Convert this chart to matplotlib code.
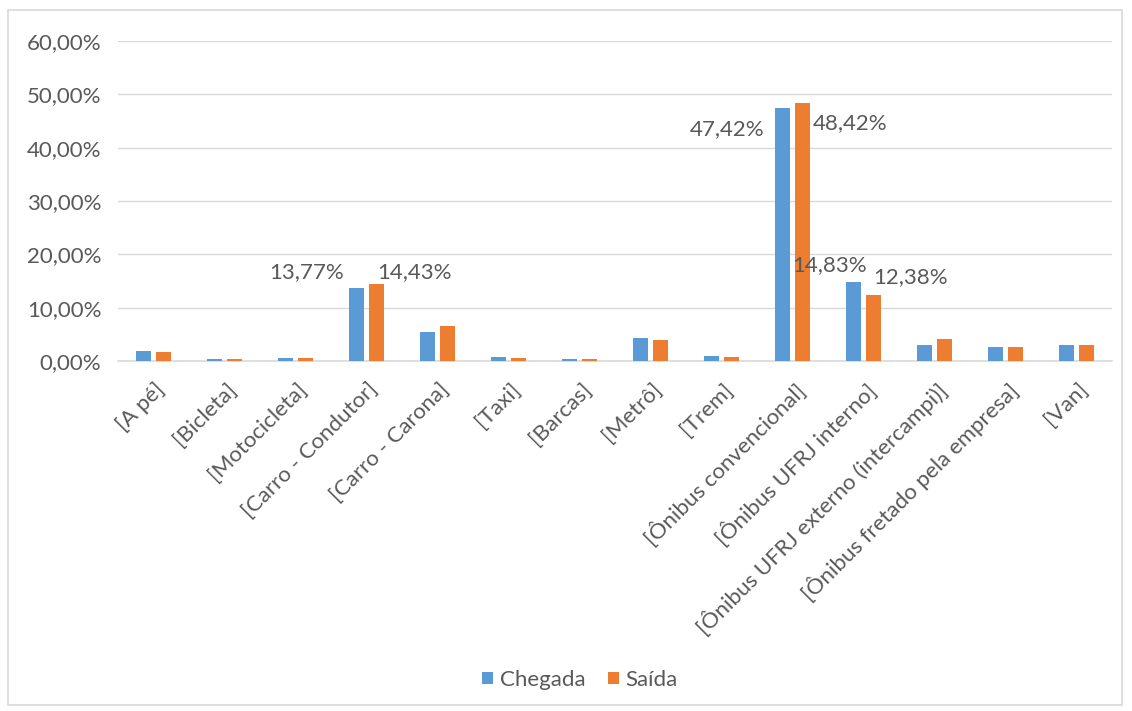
import matplotlib.pyplot as plt
from matplotlib.patches import Rectangle
from matplotlib.transforms import ScaledTranslation
import numpy as np

categories = ["[A pé]", "[Bicleta]", "[Motocicleta]", "[Carro - Condutor]",
              "[Carro - Carona]", "[Taxi]", "[Barcas]", "[Metrô]", "[Trem]",
              "[Ônibus convencional]", "[Ônibus UFRJ interno]",
              "[Ônibus UFRJ externo (intercampi)]",
              "[Ônibus fretado pela empresa]", "[Van]"]
chegada = [1.93, 0.30, 0.50, 13.77, 5.50, 0.75, 0.30, 4.40, 1.00, 47.42,
           14.83, 2.95, 2.70, 2.95]
saida = [1.69, 0.30, 0.55, 14.43, 6.50, 0.50, 0.30, 3.90, 0.75, 48.42,
         12.38, 4.07, 2.70, 2.95]
yticks = [0, 10, 20, 30, 40, 50, 60]

# labelled bars: (series, index, anchor on bar, dx px, dy px, ha)
labels = [("c", 3, "left", -5, 15, "right"), ("s", 3, "right", -7, 12, "left"),
          ("c", 9, "left", -11, -21, "right"), ("s", 9, "right", 3, -20, "left"),
          ("c", 10, "left", -54, 17, "left"), ("s", 10, "mid", 0, 18, "left")]

BLUE = "#5B9BD5"
ORANGE = "#ED7D31"
TXT = "#595959"
FS = 16
plt.rcParams['font.family'] = ['Lato', 'DejaVu Sans']

fig = plt.figure(figsize=(11.32, 7.11), dpi=100)
fig.patches.append(Rectangle((8 / 1132, 1 - 705 / 711), 1114 / 1132, 695 / 711,
                             transform=fig.transFigure, fill=False,
                             edgecolor="#D9D9D9", linewidth=1.2))
ax = fig.add_axes([118 / 1132, 1 - 361 / 711, 994 / 1132, 320 / 711])

x = np.arange(len(categories))
w = 0.215
gap = 0.06
bc = ax.bar(x - w / 2 - gap / 2, chegada, w, color=BLUE, label="Chegada", zorder=3)
bs = ax.bar(x + w / 2 + gap / 2, saida, w, color=ORANGE, label="Saída", zorder=3)

ax.set_xlim(-0.5, len(categories) - 0.5)
ax.set_ylim(0, 60)
ax.set_yticks(yticks)
ax.set_yticklabels([f"{v:.2f}%".replace(".", ",") for v in yticks])
ax.grid(axis="y", color="#D9D9D9", linewidth=1, zorder=0)
for s in ["top", "right", "left"]:
    ax.spines[s].set_visible(False)
ax.spines["bottom"].set_color("#D9D9D9")
ax.spines["bottom"].set_linewidth(1.2)
ax.tick_params(axis="both", length=0, labelcolor=TXT, labelsize=FS)
ax.tick_params(axis="y", pad=12)
ax.set_xticks(x)
ax.set_xticklabels(categories, rotation=45, ha="right", va="top",
                   rotation_mode="anchor")
shift = ScaledTranslation(1 / 100, -13 / 100, fig.dpi_scale_trans)
for t in ax.get_xticklabels():
    t.set_transform(t.get_transform() + shift)

for series, i, where, dx, dy, ha in labels:
    bars = bc if series == "c" else bs
    vals = chegada if series == "c" else saida
    b = bars[i]
    bx = {"left": b.get_x(), "right": b.get_x() + b.get_width(),
          "mid": b.get_x() + b.get_width() / 2}[where]
    ax.annotate(f"{vals[i]:.2f}%".replace(".", ","), xy=(bx, vals[i]),
                xytext=(dx * 0.72, dy * 0.72), textcoords="offset points",
                ha=ha, va="center", color=TXT, fontsize=FS)

fig.legend(handles=[bc, bs], loc="center", bbox_to_anchor=(580 / 1132, 1 - 680 / 711),
           ncol=2, frameon=False, fontsize=FS, handlelength=0.5, handleheight=0.5,
           handletextpad=0.3, columnspacing=1.0, labelcolor=TXT)

fig.savefig("out.png", dpi=100)
